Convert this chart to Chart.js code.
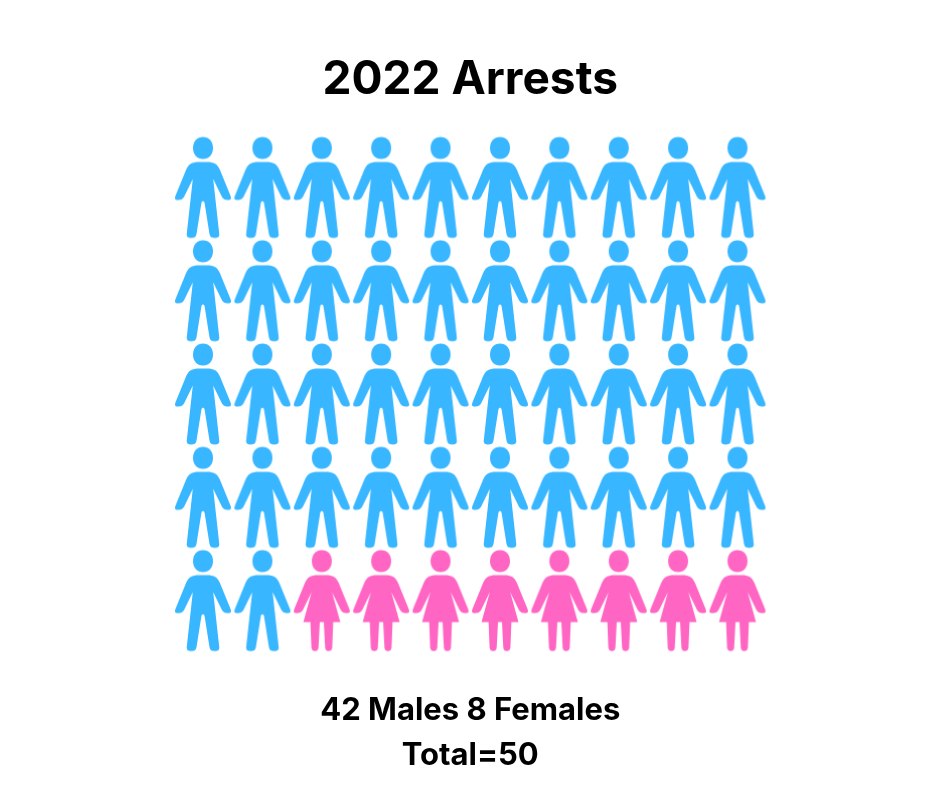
<!DOCTYPE html>
<html>
<head>
<meta charset="utf-8">
<title>2022 Arrests</title>
<script src="https://cdn.jsdelivr.net/npm/chart.js@4"></script>
<style>
  html, body { margin: 0; padding: 0; background: #fff; }
  #wrap { width: 940px; height: 788px; }
</style>
</head>
<body>
<div id="wrap"><canvas id="chart"></canvas></div>
<script>
var titleText = '2022 Arrests';
var summaryLines = ['42 Males 8 Females', 'Total=50'];

// one entry per person, column and row in the grid
var maleCols = [0,1,2,3,4,5,6,7,8,9, 0,1,2,3,4,5,6,7,8,9, 0,1,2,3,4,5,6,7,8,9, 0,1,2,3,4,5,6,7,8,9, 0,1];
var maleRows = [0,0,0,0,0,0,0,0,0,0, 1,1,1,1,1,1,1,1,1,1, 2,2,2,2,2,2,2,2,2,2, 3,3,3,3,3,3,3,3,3,3, 4,4];
var femaleCols = [2,3,4,5,6,7,8,9];
var femaleRows = [4,4,4,4,4,4,4,4];

var blue = '#38B6FF';
var pink = '#FF66C4';

function headPath(c) {
    c.beginPath();
    c.moveTo(0, 0);
    c.bezierCurveTo(6, 0, 10, 4.5, 10, 11);
    c.bezierCurveTo(10, 17.5, 6, 22, 0, 22);
    c.bezierCurveTo(-6, 22, -10, 17.5, -10, 11);
    c.bezierCurveTo(-10, 4.5, -6, 0, 0, 0);
    c.closePath();
    c.fill();
}

// upper body is the same on both icons, lower part differs
function person(color, female) {
    var cv = document.createElement('canvas');
    cv.width = 60;
    cv.height = 104;
    var c = cv.getContext('2d');
    c.translate(30, 1.5);
    c.fillStyle = color;
    headPath(c);

    c.beginPath();
    c.moveTo(0, 25);
    c.lineTo(4, 25);
    c.bezierCurveTo(11, 25, 14.5, 27, 17, 33);
    c.lineTo(27.6, 59);
    c.bezierCurveTo(28.6, 61.5, 27.8, 63, 25.8, 63);
    c.bezierCurveTo(22, 63.4, 20.5, 62, 19, 60);
    c.lineTo(10.2, 42);
    if (female) {
        c.lineTo(18.5, 72);
        c.lineTo(11.4, 72);
        c.lineTo(10.4, 97.5);
        c.bezierCurveTo(10.2, 100, 8.5, 101, 6.8, 101);
        c.bezierCurveTo(5, 101, 3.5, 100, 3.3, 97.5);
        c.lineTo(2, 72);
        c.lineTo(-2, 72);
        c.lineTo(-3.3, 97.5);
        c.bezierCurveTo(-3.5, 100, -5, 101, -6.8, 101);
        c.bezierCurveTo(-8.5, 101, -10.2, 100, -10.4, 97.5);
        c.lineTo(-11.4, 72);
        c.lineTo(-18.5, 72);
    } else {
        c.lineTo(16.3, 97.5);
        c.bezierCurveTo(16.5, 100, 14.5, 101, 12, 101);
        c.bezierCurveTo(8.8, 101, 7, 100, 6.5, 97);
        c.lineTo(1.6, 66);
        c.bezierCurveTo(1.2, 63.5, -1.2, 63.5, -1.6, 66);
        c.lineTo(-6.5, 97);
        c.bezierCurveTo(-7, 100, -8.8, 101, -12, 101);
        c.bezierCurveTo(-14.5, 101, -16.5, 100, -16.3, 97.5);
    }
    c.lineTo(-10.2, 42);
    c.lineTo(-19, 60);
    c.bezierCurveTo(-20.5, 62, -22, 63.4, -25.8, 63);
    c.bezierCurveTo(-27.8, 63, -28.6, 61.5, -27.6, 59);
    c.lineTo(-17, 33);
    c.bezierCurveTo(-14.5, 27, -11, 25, -4, 25);
    c.closePath();
    c.fill();
    return cv;
}

function toPoints(cols, rows) {
    return cols.map(function (col, i) {
        return { x: col, y: rows[i] };
    });
}

var ctx = document.querySelector('#chart');
window.myChart = new Chart(ctx, {
    type: 'scatter',
    data: {
        datasets: [{
            label: 'Males',
            data: toPoints(maleCols, maleRows),
            pointStyle: person(blue, false),
            clip: false
        }, {
            label: 'Females',
            data: toPoints(femaleCols, femaleRows),
            pointStyle: person(pink, true),
            clip: false
        }]
    },
    options: {
        responsive: true,
        maintainAspectRatio: false,
        animation: false,
        layout: {
            padding: { left: 203, right: 202.5, top: 0, bottom: 0 }
        },
        scales: {
            x: { type: 'linear', display: false, min: 0, max: 9 },
            y: { type: 'linear', display: false, min: 0, max: 4, reverse: true }
        },
        plugins: {
            legend: { display: false },
            tooltip: { enabled: false },
            title: {
                display: true,
                text: titleText,
                color: '#000',
                font: { size: 46, family: 'Inter', weight: 'bold', lineHeight: 1.2 },
                padding: { top: 53, bottom: 79.3 }
            },
            subtitle: {
                display: true,
                position: 'bottom',
                text: summaryLines,
                color: '#000',
                font: { size: 31, family: 'Inter', weight: 'bold', lineHeight: 1.45 },
                padding: { top: 87.5, bottom: 10 }
            }
        }
    }
});
</script>
</body>
</html>
